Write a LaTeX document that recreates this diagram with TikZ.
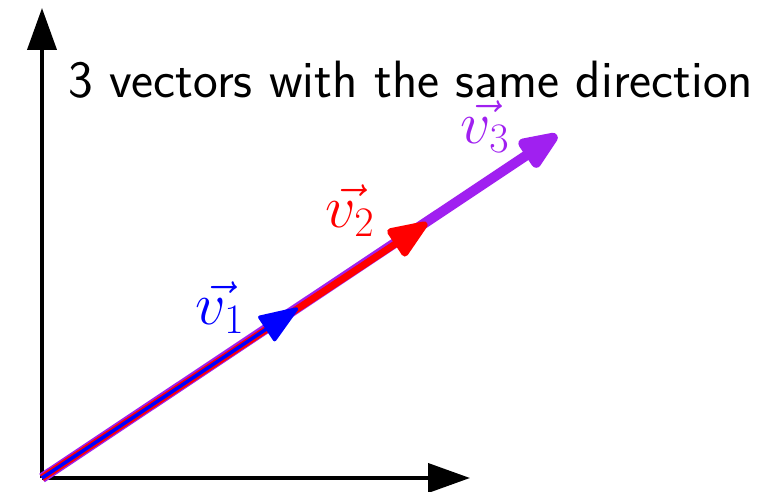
\RequirePackage{fix-cm}
\documentclass[tikz,border=0pt]{standalone}
\usetikzlibrary{arrows.meta}
\definecolor{vpurple}{RGB}{160,32,240}
\begin{document}
\begin{tikzpicture}[x=1pt,y=-1pt,
  axis/.style={line width=4pt, black, -{Triangle[length=42pt,width=29pt]}},
  vec/.style={-{Triangle[length=47pt,width=35pt,round]}},
  lbl/.style={font=\fontsize{60}{70}\selectfont, inner sep=0pt},
  ttl/.style={font=\sffamily\fontsize{52.5}{60}\selectfont, anchor=base west, inner sep=0pt},
]
\useasboundingbox (0,0) rectangle (758,492);
\coordinate (O) at (42,478);
\coordinate (X) at (470,478);
\coordinate (Y) at (42,8);
\coordinate (A3) at (557,135);
\coordinate (A2) at (427,223);
\coordinate (A1) at (298,308);
\draw[axis] (O) -- (X);
\draw[axis] (O) -- (Y);
\draw[vec, vpurple, line width=10pt] (O) -- (A3);
\draw[vec, red, line width=7pt, -{Triangle[length=45pt,width=34pt,round]}] (O) -- (A2);
\draw[vec, blue, line width=3.5pt, -{Triangle[length=42pt,width=31pt,round]}] (O) -- (A1);
\node[ttl] (title) at (68,98) {3 vectors with the same direction};
\node[lbl, text=blue] (l1) at (220,308) {$\vec{v_1}$};
\node[lbl, text=red] (l2) at (350,211) {$\vec{v_2}$};
\node[lbl, text=vpurple] (l3) at (485,127) {$\vec{v_3}$};
\end{tikzpicture}
\end{document}
